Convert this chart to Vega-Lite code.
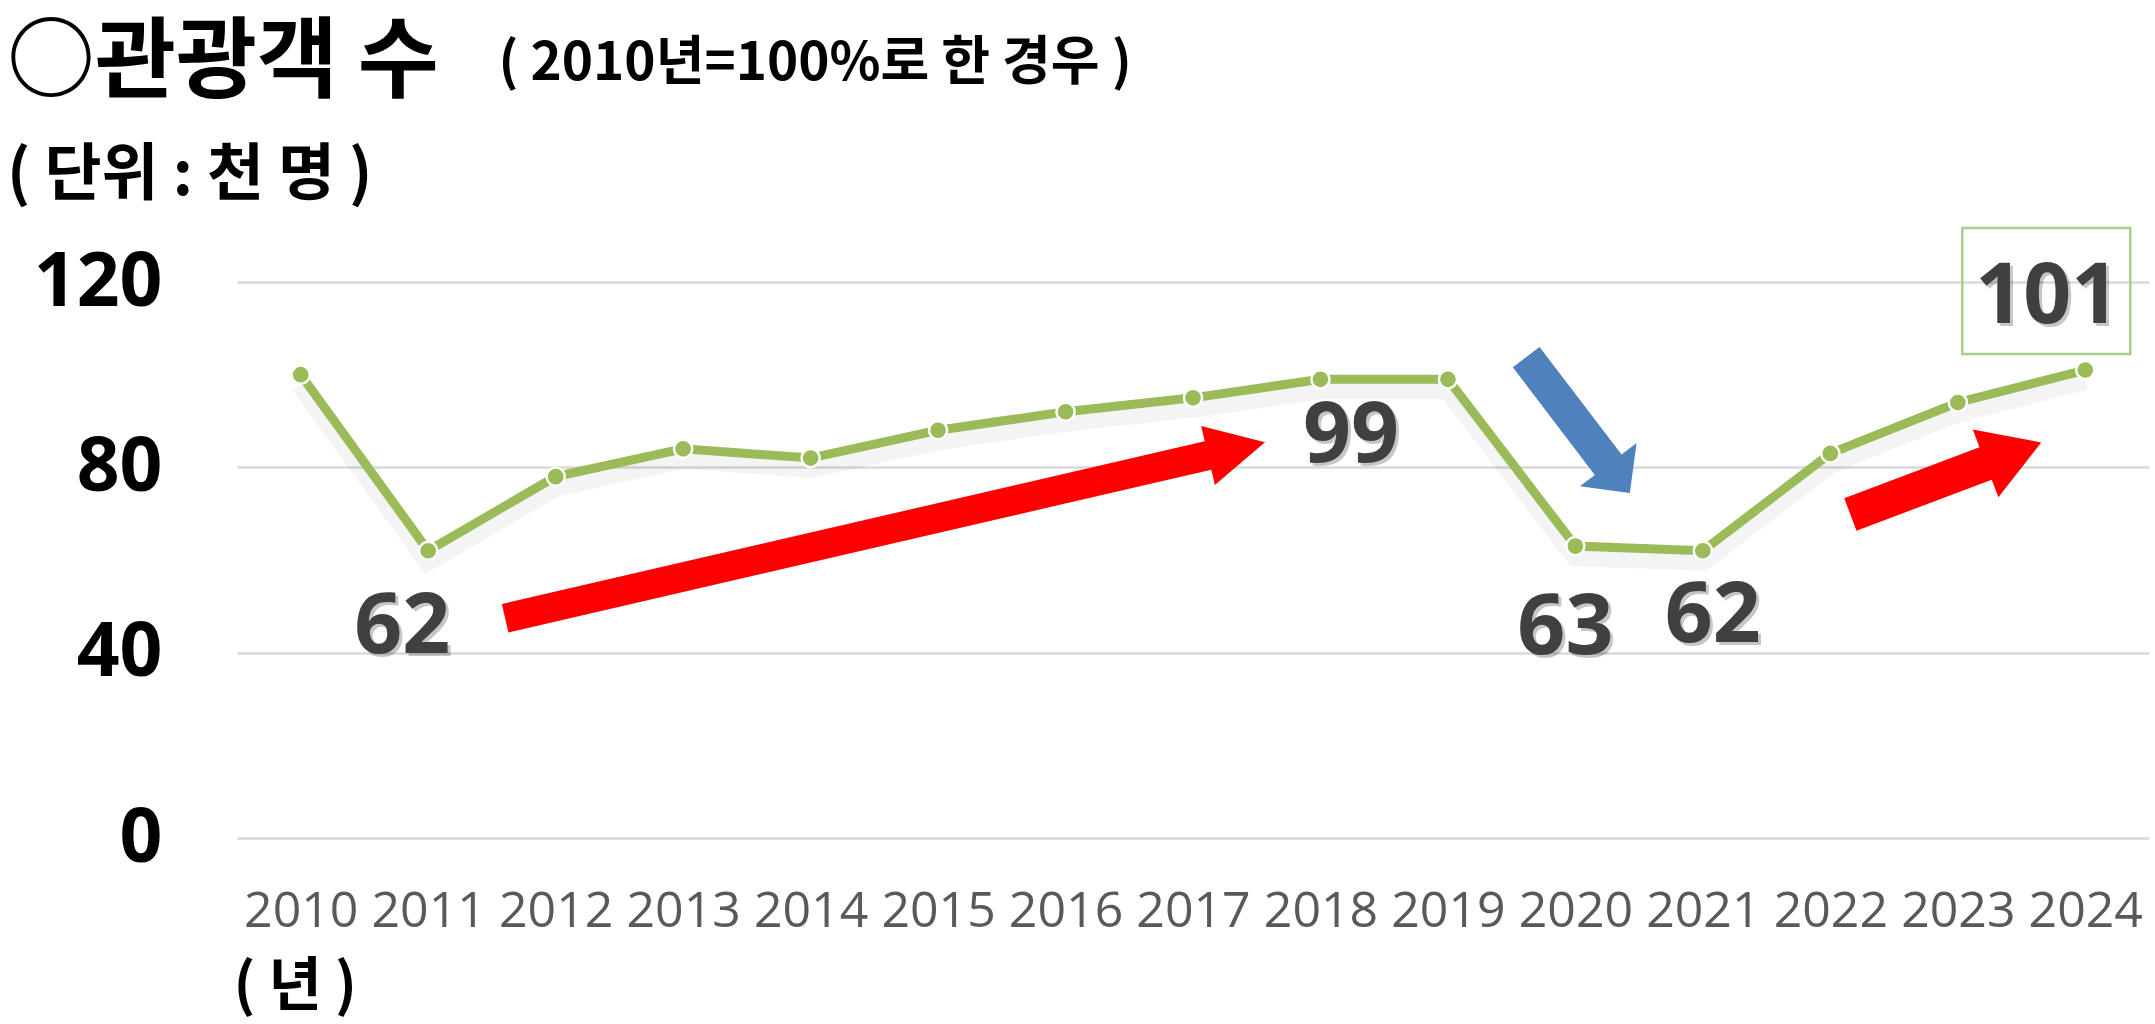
{
  "$schema": "https://vega.github.io/schema/vega-lite/v6.json",
  "autosize": "none",
  "width": 1912,
  "height": 556,
  "padding": {"left": 237, "top": 282, "right": 6, "bottom": 186},
  "background": "#ffffff",
  "title": {
    "text": "○관광객 수",
    "subtitle": "( 단위 : 천 명 )",
    "anchor": "start",
    "frame": "group",
    "offset": 0,
    "dx": -230,
    "dy": 170,
    "font": "Noto Sans CJK KR",
    "fontSize": 88,
    "fontWeight": "bold",
    "color": "#000000",
    "subtitleFont": "Noto Sans CJK KR",
    "subtitleFontSize": 62,
    "subtitleFontWeight": "bold",
    "subtitleColor": "#000000",
    "subtitlePadding": 38
  },
  "config": {"view": {"stroke": null}},
  "data": {
    "values": [
      {"year": 2010, "value": 100},
      {"year": 2011, "value": 62},
      {"year": 2012, "value": 78},
      {"year": 2013, "value": 84},
      {"year": 2014, "value": 82},
      {"year": 2015, "value": 88},
      {"year": 2016, "value": 92},
      {"year": 2017, "value": 95},
      {"year": 2018, "value": 99},
      {"year": 2019, "value": 99},
      {"year": 2020, "value": 63},
      {"year": 2021, "value": 62},
      {"year": 2022, "value": 83},
      {"year": 2023, "value": 94},
      {"year": 2024, "value": 101}
    ]
  },
  "encoding": {
    "x": {
      "field": "year",
      "type": "quantitative",
      "scale": {"domain": [2009.5, 2024.5], "nice": false, "zero": false},
      "axis": {
        "values": [2010, 2011, 2012, 2013, 2014, 2015, 2016, 2017, 2018, 2019, 2020, 2021, 2022, 2023, 2024],
        "format": "d",
        "grid": false,
        "domain": false,
        "ticks": false,
        "tickSize": 0,
        "labelFlush": false,
        "labelOverlap": false,
        "labelFont": "Open Sans",
        "labelFontSize": 50,
        "labelColor": "#595959",
        "labelBaseline": "top",
        "labelPadding": 48,
        "title": "( 년 )",
        "titleFont": "Noto Sans CJK KR",
        "titleFontSize": 58,
        "titleFontWeight": "bold",
        "titleColor": "#000000",
        "titleAnchor": "start",
        "titleAlign": "left",
        "titleBaseline": "middle",
        "titleAngle": 0,
        "titleX": -4,
        "titleY": 149
      }
    },
    "y": {
      "field": "value",
      "type": "quantitative",
      "scale": {"domain": [0, 120], "nice": false, "zero": true},
      "axis": {
        "values": [0, 40, 80, 120],
        "grid": true,
        "gridColor": "#D9D9D9",
        "gridWidth": 2.5,
        "domain": false,
        "ticks": false,
        "tickSize": 0,
        "labelFont": "Open Sans",
        "labelFontSize": 75,
        "labelFontWeight": "bold",
        "labelColor": "#000000",
        "labelPadding": 75,
        "labelBaseline": "middle",
        "title": "( 2010년=100%로  한  경우 )",
        "titleFont": "Noto Sans CJK KR",
        "titleFontSize": 53,
        "titleFontWeight": "bold",
        "titleColor": "#000000",
        "titleAngle": 0,
        "titleAlign": "left",
        "titleBaseline": "middle",
        "titleX": 261,
        "titleY": -219
      }
    }
  },
  "layer": [
    {
      "mark": {"type": "line", "color": "#000000", "opacity": 0.045, "strokeWidth": 20, "yOffset": 10}
    },
    {
      "transform": [{"filter": "datum.year === 2015"}],
      "mark": {"type": "point", "shape": "M-1,-0.0374L0.85,-0.0374L0.85,-0.0777L1,0L0.85,0.0777L0.85,0.0374L-1,0.0374Z", "size": 608400, "angle": -13.04, "filled": true, "fill": "#FF0000", "stroke": null, "opacity": 1, "xOffset": -53, "yOffset": 100}
    },
    {
      "transform": [{"filter": "datum.year === 2020"}],
      "mark": {"type": "point", "shape": "M-1,-0.1965L0.5825,-0.1965L0.5825,-0.4175L1,0L0.5825,0.4175L0.5825,0.1965L-1,0.1965Z", "size": 29241, "angle": 52.7, "filled": true, "fill": "#4F81BD", "stroke": null, "opacity": 1, "xOffset": 2.6, "yOffset": -121}
    },
    {
      "transform": [{"filter": "datum.year === 2023"}],
      "mark": {"type": "point", "shape": "M-1,-0.17L0.417,-0.17L0.417,-0.355L1,0L0.417,0.355L0.417,0.17L-1,0.17Z", "size": 41616, "angle": -20.7, "filled": true, "fill": "#FF0000", "stroke": null, "opacity": 1, "xOffset": -12, "yOffset": 76}
    },
    {
      "mark": {"type": "line", "color": "#9BBB59", "strokeWidth": 9}
    },
    {
      "mark": {"type": "circle", "size": 330, "fill": "#9BBB59", "stroke": "#ffffff", "strokeWidth": 2.5, "opacity": 1}
    },
    {
      "transform": [{"filter": "datum.year === 2024"}],
      "mark": {"type": "point", "shape": "M-1,-0.75L1,-0.75L1,0.75L-1,0.75Z", "size": 28224, "filled": false, "fill": null, "stroke": "#A9CD8C", "strokeWidth": 2.5, "opacity": 1, "xOffset": -39, "yOffset": -79}
    },
    {
      "transform": [{"filter": "datum.year === 2011"}],
      "mark": {"type": "text", "font": "Open Sans", "fontWeight": "bold", "fontSize": 84, "color": "#000000", "opacity": 0.22, "align": "center", "baseline": "alphabetic", "dx": -23, "dy": 105},
      "encoding": {"text": {"field": "value", "type": "quantitative"}}
    },
    {
      "transform": [{"filter": "datum.year === 2011"}],
      "mark": {"type": "text", "font": "Open Sans", "fontWeight": "bold", "fontSize": 84, "color": "#404040", "align": "center", "baseline": "alphabetic", "dx": -26, "dy": 102},
      "encoding": {"text": {"field": "value", "type": "quantitative"}}
    },
    {
      "transform": [{"filter": "datum.year === 2018"}],
      "mark": {"type": "text", "font": "Open Sans", "fontWeight": "bold", "fontSize": 84, "color": "#000000", "opacity": 0.22, "align": "center", "baseline": "alphabetic", "dx": 33.5, "dy": 86},
      "encoding": {"text": {"field": "value", "type": "quantitative"}}
    },
    {
      "transform": [{"filter": "datum.year === 2018"}],
      "mark": {"type": "text", "font": "Open Sans", "fontWeight": "bold", "fontSize": 84, "color": "#404040", "align": "center", "baseline": "alphabetic", "dx": 30.5, "dy": 83},
      "encoding": {"text": {"field": "value", "type": "quantitative"}}
    },
    {
      "transform": [{"filter": "datum.year === 2020"}],
      "mark": {"type": "text", "font": "Open Sans", "fontWeight": "bold", "fontSize": 84, "color": "#000000", "opacity": 0.22, "align": "center", "baseline": "alphabetic", "dx": -7, "dy": 111},
      "encoding": {"text": {"field": "value", "type": "quantitative"}}
    },
    {
      "transform": [{"filter": "datum.year === 2020"}],
      "mark": {"type": "text", "font": "Open Sans", "fontWeight": "bold", "fontSize": 84, "color": "#404040", "align": "center", "baseline": "alphabetic", "dx": -10, "dy": 108},
      "encoding": {"text": {"field": "value", "type": "quantitative"}}
    },
    {
      "transform": [{"filter": "datum.year === 2021"}],
      "mark": {"type": "text", "font": "Open Sans", "fontWeight": "bold", "fontSize": 84, "color": "#000000", "opacity": 0.22, "align": "center", "baseline": "alphabetic", "dx": 13, "dy": 94},
      "encoding": {"text": {"field": "value", "type": "quantitative"}}
    },
    {
      "transform": [{"filter": "datum.year === 2021"}],
      "mark": {"type": "text", "font": "Open Sans", "fontWeight": "bold", "fontSize": 84, "color": "#404040", "align": "center", "baseline": "alphabetic", "dx": 10, "dy": 91},
      "encoding": {"text": {"field": "value", "type": "quantitative"}}
    },
    {
      "transform": [{"filter": "datum.year === 2024"}],
      "mark": {"type": "text", "font": "Open Sans", "fontWeight": "bold", "fontSize": 84, "color": "#000000", "opacity": 0.22, "align": "center", "baseline": "alphabetic", "dx": -35, "dy": -44},
      "encoding": {"text": {"field": "value", "type": "quantitative"}}
    },
    {
      "transform": [{"filter": "datum.year === 2024"}],
      "mark": {"type": "text", "font": "Open Sans", "fontWeight": "bold", "fontSize": 84, "color": "#404040", "align": "center", "baseline": "alphabetic", "dx": -38, "dy": -47},
      "encoding": {"text": {"field": "value", "type": "quantitative"}}
    }
  ]
}
